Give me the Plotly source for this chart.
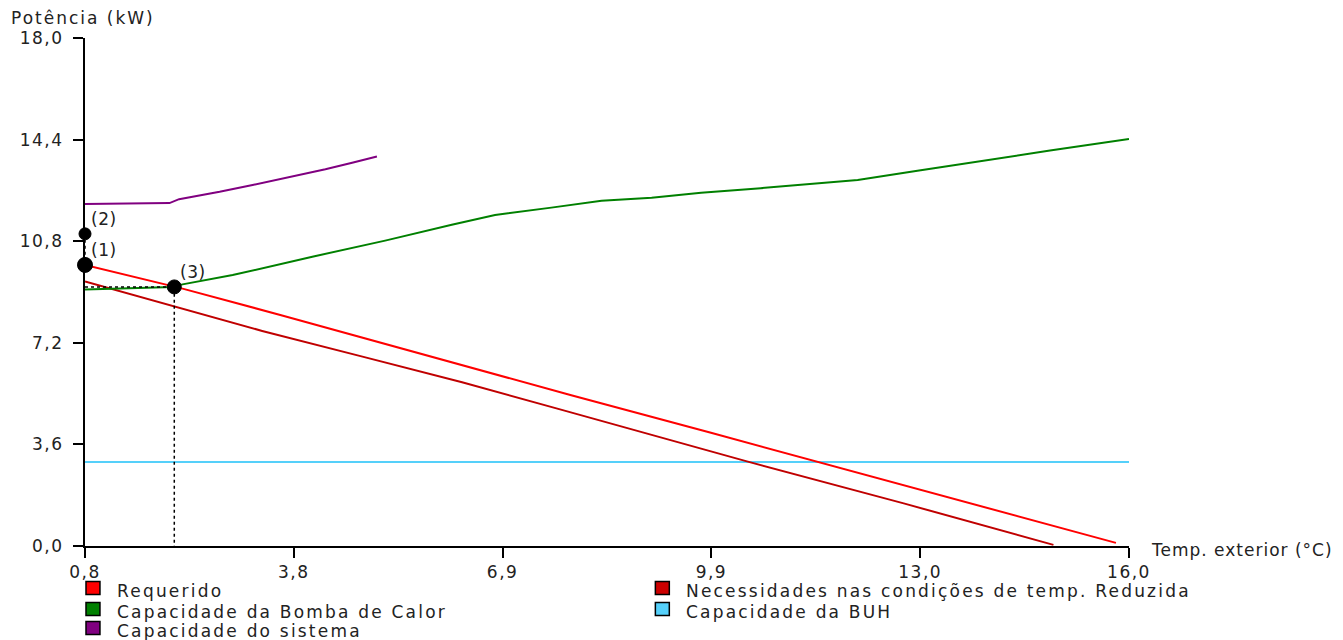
import plotly.graph_objects as go

# ---------------- data ----------------
x_ticks = [0.8, 3.84, 6.88, 9.92, 12.96, 16.0]
x_tick_labels = ["0,8", "3,8", "6,9", "9,9", "13,0", "16,0"]
y_ticks = [0.0, 3.6, 7.2, 10.8, 14.4, 18.0]
y_tick_labels = ["0,0", "3,6", "7,2", "10,8", "14,4", "18,0"]

req_t = [0.8, 1.93, 2.22, 3.67, 5.13, 6.58, 7.88, 9.9, 11.47, 12.97, 15.14, 15.81]
req_p = [9.96, 9.31, 9.12, 8.17, 7.18, 6.22, 5.34, 4.02, 2.98, 1.97, 0.56, 0.11]

red_t = [0.8, 2.13, 3.38, 4.84, 6.29, 7.69, 8.9, 10.45, 12.72, 14.90]
red_p = [9.37, 8.48, 7.62, 6.71, 5.80, 4.86, 4.05, 2.99, 1.51, 0.04]

hp_t = [0.8, 2.08, 2.22, 2.95, 4.11, 5.17, 6.14, 6.77, 7.59, 8.32, 9.05, 9.77, 10.64,
        11.47, 12.05, 12.92, 13.88, 14.85, 16.0]
hp_p = [9.09, 9.18, 9.27, 9.60, 10.25, 10.82, 11.38, 11.73, 11.99, 12.23, 12.34, 12.52,
        12.68, 12.85, 12.97, 13.30, 13.64, 14.01, 14.42]

buh_t = [0.8, 16.0]
buh_p = [2.98, 2.98]

sys_t = [0.8, 2.03, 2.17, 2.76, 3.24, 3.86, 4.30, 4.69, 5.05]
sys_p = [12.12, 12.15, 12.29, 12.55, 12.79, 13.11, 13.35, 13.58, 13.80]

pt_labels = ["(1)", "(2)", "(3)"]
pt_t = [0.8, 0.8, 2.1]
pt_p = [9.96, 11.06, 9.18]

legend_names = ["Requerido", "Necessidades nas condições de temp. Reduzida",
                "Capacidade da Bomba de Calor", "Capacidade da BUH",
                "Capacidade do sistema"]
legend_colors = ["#ff0000", "#cc0000", "#008000", "#55d0fa", "#800080"]

# ---------------- layout helpers ----------------
OFF = 8                       # page body margin
W, H = 1343 - OFF, 640 - OFF
L, R, T, B = 82, 1129, 38, 546   # plot area in page pixels
FONT = "DejaVu Sans"
FS = 17
TXT = "#222222"


def px_x(px):
    return (px - L) / (R - L)


def px_y(py):
    return (B - py) / (B - T)


def spaced(s, ls):
    return f'<span style="letter-spacing:{ls}px">{s}</span>'


fig = go.Figure()

line_w = 2
fig.add_trace(go.Scatter(x=buh_t, y=buh_p, mode="lines",
                         line=dict(color=legend_colors[3], width=line_w), cliponaxis=False))
fig.add_trace(go.Scatter(x=red_t, y=red_p, mode="lines",
                         line=dict(color="#c00000", width=line_w), cliponaxis=False))
fig.add_trace(go.Scatter(x=req_t, y=req_p, mode="lines",
                         line=dict(color=legend_colors[0], width=line_w), cliponaxis=False))
fig.add_trace(go.Scatter(x=hp_t, y=hp_p, mode="lines",
                         line=dict(color=legend_colors[2], width=line_w), cliponaxis=False))
fig.add_trace(go.Scatter(x=sys_t, y=sys_p, mode="lines",
                         line=dict(color=legend_colors[4], width=line_w), cliponaxis=False))

# dotted guide lines through the marked points
fig.add_trace(go.Scatter(x=[pt_t[0], pt_t[2], pt_t[2]], y=[pt_p[2], pt_p[2], 0],
                         mode="lines", line=dict(color="black", width=1.5, dash="dot"),
                         cliponaxis=False))
fig.add_trace(go.Scatter(x=[pt_t[1], pt_t[0]], y=[pt_p[1], pt_p[0]],
                         mode="lines", line=dict(color="black", width=1.5, dash="dot"),
                         cliponaxis=False))

fig.add_trace(go.Scatter(x=pt_t, y=pt_p, mode="markers",
                         marker=dict(color="#000000", size=[15, 12, 14], opacity=1,
                                     line=dict(width=1, color="#000000")),
                         cliponaxis=False))

for lab, t, p in zip(pt_labels, pt_t, pt_p):
    fig.add_annotation(x=t, y=p, text=spaced(lab, 0.5), showarrow=False, xanchor="left",
                       yanchor="bottom", xshift=4, yshift=3,
                       font=dict(family=FONT, size=FS, color=TXT))

# axis titles
fig.add_annotation(xref="paper", yref="paper", x=px_x(6), y=px_y(18),
                   text=spaced("Potência (kW)", 2.0),
                   showarrow=False, xanchor="left", yanchor="middle",
                   font=dict(family=FONT, size=FS, color=TXT))
fig.add_annotation(xref="paper", yref="paper", x=px_x(1149), y=px_y(550),
                   text=spaced("Temp. exterior (°C)", 1.0), showarrow=False, xanchor="left",
                   yanchor="middle", font=dict(family=FONT, size=FS, color=TXT))

# legend (two columns)
leg_pos = [(90, 588), (661, 588), (90, 609), (661, 609), (90, 628)]
for name, col, (cx, cy) in zip(legend_names, legend_colors, leg_pos):
    fig.add_shape(type="rect", xref="paper", yref="paper",
                  x0=px_x(cx - 7), x1=px_x(cx + 7), y0=px_y(cy + 6.5), y1=px_y(cy - 6.5),
                  fillcolor=col, line=dict(color="black", width=1.5))
    fig.add_annotation(xref="paper", yref="paper", x=px_x(cx + 22), y=px_y(cy + 3),
                       text=spaced(name, 2.2), showarrow=False, xanchor="left",
                       yanchor="middle", font=dict(family=FONT, size=FS, color=TXT))

axis_common = dict(showline=True, linecolor="black", linewidth=2, ticks="outside",
                   ticklen=10, tickwidth=2, tickcolor="black", showgrid=False,
                   zeroline=False, tickfont=dict(family=FONT, size=FS, color=TXT))

fig.update_xaxes(range=[0.8, 16.0], tickvals=x_ticks,
                 ticktext=[spaced(s, 1.5) for s in x_tick_labels], **axis_common)
fig.update_yaxes(range=[0, 18.0], tickvals=y_ticks,
                 ticktext=[spaced(s, 1.5) for s in y_tick_labels],
                 ticklabelstandoff=6, **axis_common)

fig.update_layout(width=W, height=H, showlegend=False,
                  margin=dict(l=L - OFF, r=W - (R - OFF), t=T - OFF, b=H - (B - OFF), pad=0),
                  plot_bgcolor="white", paper_bgcolor="white",
                  font=dict(family=FONT, size=FS, color=TXT))

fig.write_html("out.html")
